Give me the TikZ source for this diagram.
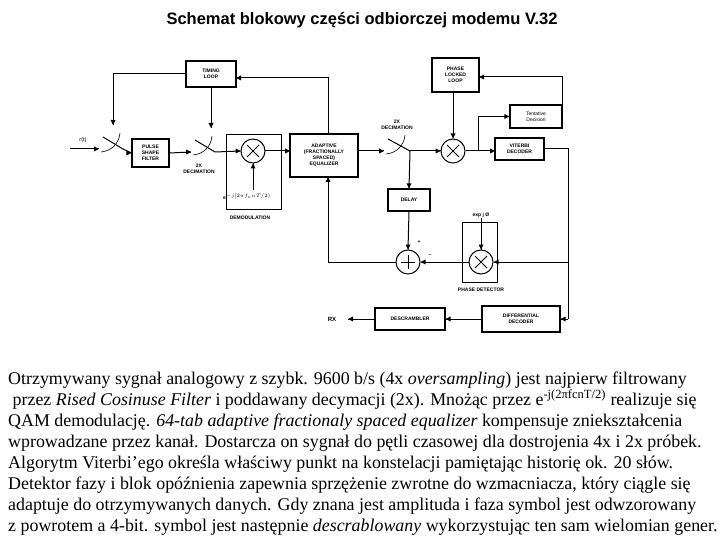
\documentclass[tikz,border=0pt]{standalone}
\usepackage{fontspec}
\setmainfont{Liberation Serif}
\setsansfont{Liberation Sans}
\usetikzlibrary{calc}
\newcommand\tipR[1]{\fill[black] (#1) -- ++(-5,2.5) -- ++(0,-5) -- cycle;}
\newcommand\tipL[1]{\fill[black] (#1) -- ++(5,2.5) -- ++(0,-5) -- cycle;}
\newcommand\tipD[1]{\fill[black] (#1) -- ++(2.5,5) -- ++(-5,0) -- cycle;}
\newcommand\tipU[1]{\fill[black] (#1) -- ++(2.5,-5) -- ++(-5,0) -- cycle;}
\begin{document}
\begin{tikzpicture}[x=1pt,y=1pt,
  blk/.style={draw,line width=1.1pt,inner sep=0pt,font=\sffamily\bfseries\fontsize{5}{6}\selectfont,align=center},
  lbl/.style={font=\sffamily\bfseries\fontsize{5}{6}\selectfont,align=center,inner sep=0pt},
  wire/.style={draw=black,line width=1pt},
  circ/.style={draw,circle,line width=1pt,minimum size=24pt,inner sep=0pt},
  txt/.style={anchor=base west,inner sep=0pt,font=\fontsize{17.9}{20}\selectfont}]
\useasboundingbox (0,0) rectangle (720,-540);
\node[font=\sffamily\bfseries\fontsize{16.5}{18}\selectfont] (title) at (362,-20) {Schemat blokowy części odbiorczej modemu V.32};
% blocks
\node[blk,minimum width=50pt,minimum height=26pt] (tl) at (211,-74) {TIMING\\LOOP};
\node[blk,minimum width=37pt,minimum height=28pt] (psf) at (150.5,-153) {PULSE\\SHAPE\\FILTER};
\node[draw,line width=1pt,minimum width=55pt,minimum height=75pt,inner sep=0pt] (dm) at (253.5,-172.5) {};
\node[circ] (m1) at (253,-151) {};
\node[blk,minimum width=68pt,minimum height=43pt] (eq) at (324,-155.5) {ADAPTIVE\\(FRACTIONALLY\\SPACED)\\EQUALIZER};
\node[blk,minimum width=47pt,minimum height=34pt] (pll) at (455.5,-75) {PHASE\\LOCKED\\LOOP};
\node[circ] (m2) at (453,-151) {};
\node[blk,minimum width=52pt,minimum height=23pt,font=\sffamily\fontsize{5}{6}\selectfont] (td) at (536,-116.5) {Tentative\\Decision};
\node[blk,minimum width=49pt,minimum height=22pt] (vit) at (519.5,-149) {VITERBI\\DECODER};
\node[blk,minimum width=42pt,minimum height=22pt] (del) at (409,-200) {DELAY};
\node[draw,line width=1pt,minimum width=35pt,minimum height=59pt,inner sep=0pt] (pd) at (479.5,-252.5) {};
\node[circ] (m3) at (481,-262) {};
\node[circ] (sum) at (408,-262) {};
\node[blk,minimum width=78pt,minimum height=26pt] (dd) at (521,-319) {DIFFERENTIAL\\DECODER};
\node[blk,minimum width=70pt,minimum height=22pt] (ds) at (410,-319) {DESCRAMBLER};
% symbols in circles
\foreach \c in {m1,m2,m3}{
  \draw[line width=1pt] ($(\c)+(-6,-6)$) -- ($(\c)+(6,6)$) ($(\c)+(-6,6)$) -- ($(\c)+(6,-6)$);}
\draw[line width=0.7pt] ($(sum)+(-7,0)$) -- ($(sum)+(7,0)$) ($(sum)+(0,-7)$) -- ($(sum)+(0,7)$);
% labels
\node[lbl,font=\sffamily\fontsize{5.5}{6}\selectfont] (rt) at (83,-140) {r(t)};
\node[lbl] (dec1) at (199,-169) {2X\\DECIMATION};
\node[lbl] (exp) at (247,-197) {e$^{-j[2\pi f_c nT/2)}$};
\node[lbl] (dml) at (250,-218) {DEMODULATION};
\node[lbl] (dec2) at (397,-125) {2X\\DECIMATION};
\node[lbl] (ej) at (481,-215) {exp j Ø};
\node[lbl] (pdl) at (481,-290) {PHASE DETECTOR};
\node[lbl] (plus) at (419,-242) {+};
\node[lbl] (minus) at (430,-256) {--};
\node[lbl,font=\sffamily\bfseries\fontsize{6}{6}\selectfont] (rx) at (332,-319) {RX};
% coordinates
\coordinate (rin) at (70,-149);
\coordinate (s1b) at (123,-149); \coordinate (s1t) at (103,-137); \coordinate (s1c) at (99,-149);
\coordinate (s2a) at (195,-152); \coordinate (s2b) at (215,-152); \coordinate (s2t) at (195,-140); \coordinate (s2c) at (191,-152);
\coordinate (s3a) at (388,-151); \coordinate (s3b) at (410,-151); \coordinate (s3t) at (388,-139); \coordinate (s3c) at (384,-151);
\coordinate (s1a) at (103,-149);
\coordinate (t1) at (113,-125); \coordinate (t2) at (211,-128);
\coordinate (eqt) at (328,-134); \coordinate (eqtop) at (328,-78); \coordinate (tlr) at (236,-78);
\coordinate (eqb) at (328,-177); \coordinate (eql) at (328,-262);
\coordinate (eqo) at (358,-151); \coordinate (m1r) at (265,-151); \coordinate (eqw) at (290,-151);
\coordinate (br) at (478,-151); \coordinate (brt) at (478,-116.5); \coordinate (vw) at (495,-151);
\coordinate (tdr) at (562,-116.5); \coordinate (tdu) at (562,-77); \coordinate (pllr) at (479,-77);
\coordinate (vr) at (568,-149); \coordinate (vm) at (568,-262); \coordinate (vb) at (568,-319);
\coordinate (rxe) at (348,-319);
\coordinate (expt) at (253,-190);
% switches
\draw[line width=1pt] (s1t) -- (s1b);
\draw[line width=1pt] (s2t) -- (s2b);
\draw[line width=1pt] (s3t) -- (s3b);
\draw[line width=0.6pt] ($(s1a)+(-2,-3)$) to[bend right=40] ($(s1a)+(17,16)$);
\draw[line width=0.6pt] ($(s2a)+(-2,-3)$) to[bend right=40] ($(s2a)+(17,16)$);
\draw[line width=0.6pt] ($(s3a)+(-2,-3)$) to[bend right=40] ($(s3a)+(17,16)$);
% wiring
\draw[wire] (rin) -- (s1c); \tipR{s1c}
\draw[wire] (s1b) -- (psf.west); \tipR{psf.west}
\draw[wire] (psf.east) -- (s2c); \tipR{s2c}
\draw[wire] (s2b) -- (m1.west); \tipR{m1.west}
\draw[wire] (m1r) -- (eqw); \tipR{eqw}
\draw[wire] (expt) -- (m1.south); \tipU{m1.south}
\draw[wire] (tl.west) -| (t1); \tipD{t1}
\draw[wire] (tl.south) -- (t2); \tipD{t2}
\draw[wire] (eqt) -- (eqtop) -- (tlr); \tipL{tlr}
\draw[wire] (eqo) -- (s3c); \tipR{s3c}
\draw[wire] (s3b) -- (m2.west); \tipR{m2.west}
\draw[wire] (s3b) -- (del.north); \tipD{del.north}
\draw[wire] (pll.south -| m2) -- (m2.north); \tipD{m2.north}
\draw[wire] (m2.east) -- (vw); \tipR{vw}
\draw[wire] (br) -- (brt) -- (td.west); \tipR{td.west}
\draw[wire] (td.east) -- (tdr) -- (tdu) -- (pllr); \tipL{pllr}
\draw[wire] (vit.east) -- (vr) -- (vb);
\draw[wire] (vm) -- (m3.east); \tipL{m3.east}
\draw[wire] (vb) -- (dd.east); \tipL{dd.east}
\draw[wire] (ej.south) -- (m3.north); \tipD{m3.north}
\draw[wire] (m3.west) -- (sum.east); \tipL{sum.east}
\draw[wire] (del.south) -- (sum.north); \tipD{sum.north}
\draw[wire] (sum.west) -- (eql) -- (eqb); \tipU{eqb}
\draw[wire] (dd.west) -- (ds.east); \tipL{ds.east}
\draw[wire] (ds.west) -- (rxe); \tipL{rxe}
% paragraph
\node[txt] (l1) at (8,-384) {Otrzymywany sygnał analogowy z szybk. 9600 b/s (4x \emph{oversampling}) jest najpierw filtrowany};
\node[txt] (l2) at (8,-405) { \ przez \emph{Rised Cosinuse Filter} i poddawany decymacji (2x). Mnożąc przez e\textsuperscript{-j(2πfcnT/2)} realizuje się};
\node[txt] (l3) at (8,-426) {QAM demodulację. \emph{64-tab adaptive fractionaly spaced equalizer} kompensuje zniekształcenia};
\node[txt] (l4) at (8,-447) {wprowadzane przez kanał. Dostarcza on sygnał do pętli czasowej dla dostrojenia 4x i 2x próbek.};
\node[txt] (l5) at (8,-468) {Algorytm Viterbi’ego określa właściwy punkt na konstelacji pamiętając historię ok. 20 słów.};
\node[txt] (l6) at (8,-489) {Detektor fazy i blok opóźnienia zapewnia sprzężenie zwrotne do wzmacniacza, który ciągle się};
\node[txt] (l7) at (8,-510) {adaptuje do otrzymywanych danych. Gdy znana jest amplituda i faza symbol jest odwzorowany};
\node[txt] (l8) at (8,-531) {z powrotem a 4-bit. symbol jest następnie \emph{descrablowany} wykorzystując ten sam wielomian gener.};
\end{tikzpicture}
\end{document}
